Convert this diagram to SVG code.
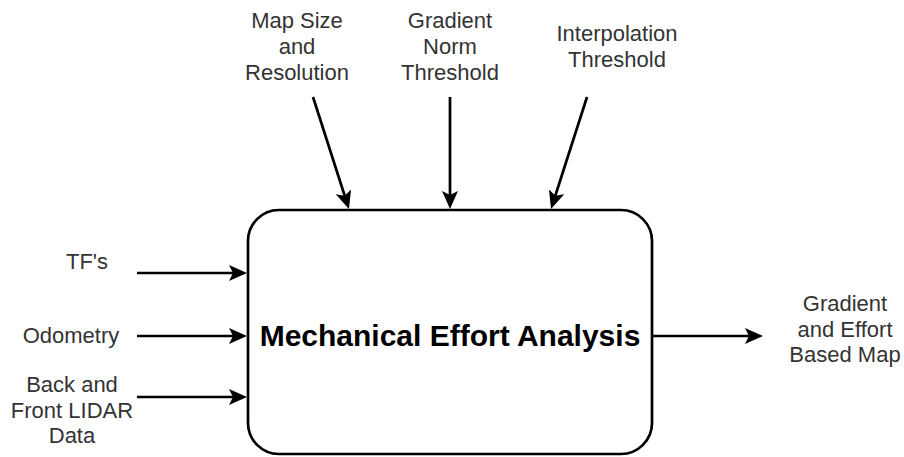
<svg xmlns="http://www.w3.org/2000/svg" width="904" height="457" viewBox="0 0 904 457">
  <defs>
    <style>
      .label { font-family: "Liberation Sans", Arial, sans-serif; font-size: 22px; fill: #333333; text-anchor: middle; }
      .title { font-family: "Liberation Sans", Arial, sans-serif; font-size: 30px; font-weight: bold; fill: #000000; text-anchor: middle; }
      .box { fill: #ffffff; stroke: #000000; stroke-width: 2.7; }
      .edge { fill: none; stroke: #000000; stroke-width: 2.7; stroke-linecap: butt; }
    </style>
    <!-- classic notched arrowhead; line end sits 10px behind the tip -->
    <marker id="arrow" markerUnits="userSpaceOnUse" viewBox="0 0 18 16" markerWidth="18" markerHeight="16" refX="8" refY="8" orient="auto">
      <path d="M0,0 L18,8 L0,16 L4,8 Z" fill="#000000"/>
    </marker>
  </defs>

  <rect width="904" height="457" fill="#ffffff"/>

  <!-- central process -->
  <g id="mechanical-effort-analysis">
    <rect class="box" x="248" y="210" width="404" height="244" rx="31" ry="31"/>
    <text class="title" x="450" y="346">Mechanical Effort Analysis</text>
  </g>

  <!-- inputs from above -->
  <g id="map-size-resolution">
    <text class="label" x="297" y="28">Map Size</text>
    <text class="label" x="297" y="54">and</text>
    <text class="label" x="297" y="80">Resolution</text>
  </g>
  <g id="gradient-norm-threshold">
    <text class="label" x="450" y="28">Gradient</text>
    <text class="label" x="450" y="54">Norm</text>
    <text class="label" x="450" y="80">Threshold</text>
  </g>
  <g id="interpolation-threshold">
    <text class="label" x="617" y="41">Interpolation</text>
    <text class="label" x="617" y="67">Threshold</text>
  </g>

  <!-- inputs from the left -->
  <g id="tfs">
    <text class="label" x="87" y="269">TF's</text>
  </g>
  <g id="odometry">
    <text class="label" x="71" y="343">Odometry</text>
  </g>
  <g id="lidar-data">
    <text class="label" x="72" y="392">Back and</text>
    <text class="label" x="72" y="417.5">Front LIDAR</text>
    <text class="label" x="72" y="443">Data</text>
  </g>

  <!-- output -->
  <g id="gradient-effort-map">
    <text class="label" x="845" y="311">Gradient</text>
    <text class="label" x="845" y="336.5">and Effort</text>
    <text class="label" x="845" y="362">Based Map</text>
  </g>

  <!-- connectors -->
  <g id="connectors">
    <line class="edge" x1="313" y1="97" x2="345.9" y2="199.5" marker-end="url(#arrow)"/>
    <line class="edge" x1="450" y1="97" x2="450" y2="199" marker-end="url(#arrow)"/>
    <line class="edge" x1="587" y1="97" x2="554.1" y2="199.5" marker-end="url(#arrow)"/>
    <line class="edge" x1="137" y1="273" x2="237" y2="273" marker-end="url(#arrow)"/>
    <line class="edge" x1="137" y1="336" x2="237" y2="336" marker-end="url(#arrow)"/>
    <line class="edge" x1="137" y1="397" x2="237" y2="397" marker-end="url(#arrow)"/>
    <line class="edge" x1="653" y1="336" x2="753" y2="336" marker-end="url(#arrow)"/>
  </g>
</svg>
